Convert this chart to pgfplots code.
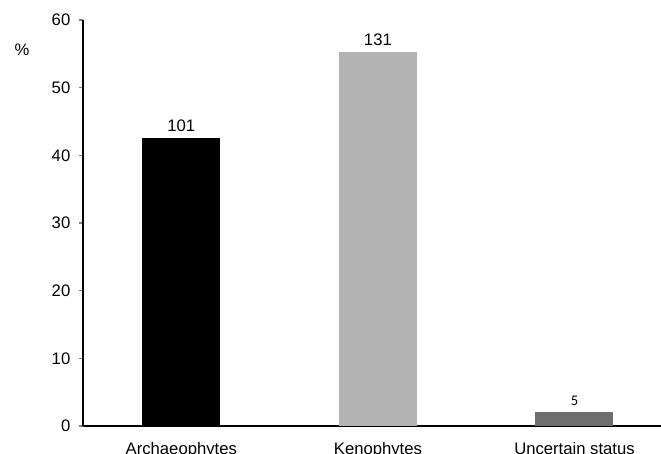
\documentclass[border=0pt]{standalone}
\usepackage{fontspec}
\setmainfont{Liberation Sans}
\newfontfamily\carlito{Carlito}
\usepackage{pgfplots}
\pgfplotsset{compat=1.18}

\definecolor{lightbar}{RGB}{179,179,179}
\definecolor{darkbar}{RGB}{110,110,110}

\begin{document}
\begin{tikzpicture}
\begin{axis}[
    scale only axis,
    width=433.5pt, height=304.5pt,
    xmin=-0.5, xmax=2.44,
    ymin=0, ymax=60,
    ytick={0,10,...,60},
    xtick={0,1,2},
    xticklabels={Archaeophytes, Kenophytes, Uncertain status},
    axis x line*=bottom, axis y line*=left,
    axis line style={-, line width=0.9pt},
    xtick style={draw=none},
    ytick style={line width=0.9pt},
    tick align=outside,
    major tick length=3pt,
    tick label style={font=\fontsize{12.5}{14}\selectfont},
    xticklabel style={yshift=-6pt},
    yticklabel style={xshift=-3pt},
    /pgf/number format/assume math mode=true,
    ybar, bar width=58.5pt, bar shift=0pt,
    clip=false,
    nodes near coords,
    point meta=explicit symbolic,
    every node near coord/.append style={font=\fontsize{12.5}{14}\selectfont, yshift=1pt},
]
\addplot[fill=black, draw=none] coordinates {(0,42.6) [101]};
\addplot[fill=lightbar, draw=none] coordinates {(1,55.3) [131]};
\addplot[fill=darkbar, draw=none,
    every node near coord/.append style={font=\carlito\fontsize{11}{13}\selectfont}]
    coordinates {(2,2.1) [5]};
\node[font=\fontsize{12.5}{14}\selectfont] at (rel axis cs:0,0.926) [xshift=-45.75pt] {\%};
\coordinate (bl) at (rel axis cs:0,0);
\coordinate (tr) at (rel axis cs:1,1);
\end{axis}
\pgfresetboundingbox
\path ([xshift=-62.25pt,yshift=-21pt]bl) rectangle ([yshift=15pt]tr);
\end{tikzpicture}
\end{document}
